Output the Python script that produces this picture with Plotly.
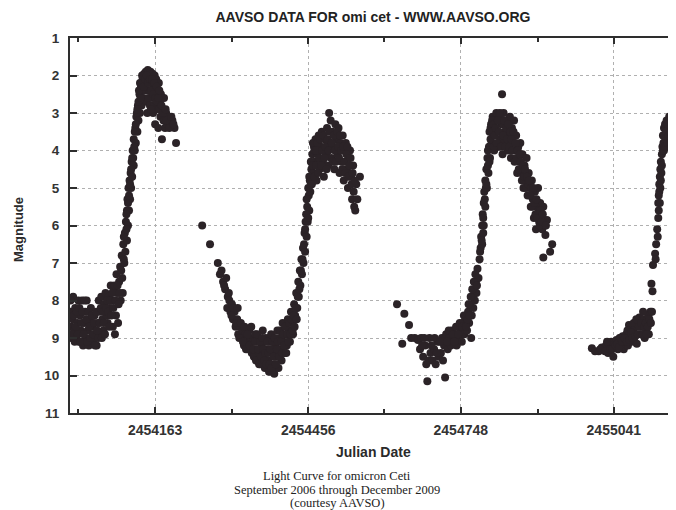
import plotly.graph_objects as go

# ---- data (Julian Date, visual magnitude) ----
cycle1 = [
    (2454002, 8.3), (2454002, 8.7), (2454003, 9.0), (2454005, 8.5), (2454006, 7.9), (2454008, 8.8),
    (2454010, 8.2), (2454012, 9.0), (2454014, 8.6), (2454016, 8.0), (2454017, 9.1), (2454019, 8.4),
    (2454021, 8.8), (2454023, 8.0), (2454025, 9.2), (2454027, 8.6), (2454029, 8.3), (2454030, 9.0),
    (2454032, 8.0), (2454034, 8.8), (2454036, 9.2), (2454038, 8.5), (2454040, 8.2), (2454041, 9.0),
    (2454043, 8.7), (2454045, 9.1), (2454047, 8.4), (2454049, 8.9), (2454051, 9.2), (2454053, 8.6),
    (2454055, 8.0), (2454056, 8.3), (2454058, 8.9), (2454060, 7.9), (2454062, 8.5), (2454064, 8.8),
    (2454066, 8.1), (2454068, 7.8), (2454070, 8.4), (2454072, 8.6), (2454074, 7.9), (2454076, 8.2),
    (2454078, 7.6), (2454080, 8.0), (2454082, 8.7), (2454084, 7.7), (2454086, 8.9), (2454088, 8.4),
    (2454090, 7.8), (2454092, 8.6), (2454094, 7.5), (2454096, 7.1), (2454097, 8.0), (2454099, 6.8),
    (2454100, 7.4), (2454101, 7.8), (2454102, 6.5), (2454104, 7.0), (2454105, 6.2), (2454106, 6.7),
    (2454107, 5.9), (2454109, 5.6), (2454109, 6.4), (2454110, 5.3), (2454111, 6.0), (2454112, 5.0),
    (2454113, 5.6), (2454114, 4.8), (2454115, 5.3), (2454116, 4.6), (2454117, 5.0), (2454118, 4.3),
    (2454119, 4.7), (2454120, 4.0), (2454122, 4.4), (2454122, 3.7), (2454124, 4.0), (2454125, 3.4),
    (2454126, 3.8), (2454127, 3.1), (2454129, 3.5), (2454130, 2.8), (2454131, 3.2), (2454133, 2.5),
    (2454134, 3.0), (2454136, 2.3), (2454137, 2.8), (2454139, 2.1), (2454140, 2.6), (2454142, 1.95),
    (2454143, 2.4), (2454145, 1.9), (2454146, 2.2), (2454147, 2.7), (2454148, 3.0), (2454149, 1.85),
    (2454151, 2.0), (2454152, 2.4), (2454153, 2.8), (2454154, 1.9), (2454156, 2.2), (2454157, 2.6),
    (2454158, 1.95), (2454159, 3.0), (2454160, 2.3), (2454161, 2.8), (2454162, 2.0), (2454163, 3.3),
    (2454164, 2.5), (2454165, 2.1), (2454167, 2.9), (2454168, 2.4), (2454169, 3.4), (2454170, 2.2),
    (2454172, 2.7), (2454173, 3.1), (2454174, 2.5), (2454176, 3.7), (2454177, 2.9), (2454179, 3.2),
    (2454180, 2.6), (2454182, 3.4), (2454184, 3.0), (2454186, 3.3), (2454188, 3.1), (2454192, 3.3),
    (2454196, 3.2), (2454200, 3.4), (2454203, 3.8),
    (2454001, 8.0), (2454004, 8.9), (2454007, 8.4), (2454009, 9.1), (2454011, 8.7), (2454013, 8.3),
    (2454015, 8.9), (2454018, 8.2), (2454020, 9.1), (2454022, 8.6), (2454024, 8.3), (2454026, 8.9),
    (2454028, 8.0), (2454031, 8.5), (2454033, 9.1), (2454035, 8.3), (2454037, 8.7), (2454039, 9.0),
    (2454042, 8.4), (2454044, 8.9), (2454046, 8.6), (2454048, 9.2), (2454050, 8.3), (2454052, 8.8),
    (2454054, 9.0), (2454057, 8.6), (2454059, 8.2), (2454061, 9.0), (2454063, 8.3), (2454065, 8.6),
    (2454067, 8.9), (2454069, 8.2), (2454071, 8.0), (2454073, 8.3), (2454075, 8.7), (2454077, 8.0),
    (2454079, 8.4), (2454081, 7.8), (2454083, 8.2), (2454085, 7.6), (2454087, 8.0), (2454089, 7.3),
    (2454091, 7.6), (2454093, 8.1), (2454095, 7.8), (2454098, 7.2), (2454103, 6.9), (2454103, 6.3),
    (2454108, 6.1), (2454108, 5.7), (2454111, 5.4), (2454113, 5.2), (2454115, 4.9), (2454117, 4.5),
    (2454119, 4.2), (2454121, 4.2), (2454123, 3.9), (2454124, 3.5), (2454126, 3.3), (2454128, 3.0),
    (2454129, 2.9), (2454131, 2.7), (2454132, 2.4), (2454134, 2.2), (2454135, 2.6), (2454138, 2.0),
    (2454141, 2.3), (2454144, 2.1), (2454147, 2.0), (2454150, 2.2), (2454150, 2.6), (2454153, 2.1),
    (2454155, 2.4), (2454155, 2.9), (2454157, 2.1), (2454159, 2.5), (2454161, 2.2), (2454163, 2.6),
    (2454166, 2.3), (2454166, 2.7), (2454169, 2.6), (2454171, 2.9), (2454171, 2.4), (2454175, 2.8),
    (2454178, 3.0), (2454181, 3.2), (2454183, 2.9), (2454185, 3.2), (2454190, 3.4), (2454194, 3.1),
    (2454198, 3.3),
]

cycle2 = [
    (2454253, 6.0), (2454268, 6.5), (2454283, 7.0), (2454287, 7.3), (2454290, 7.2), (2454293, 7.5),
    (2454297, 7.7), (2454299, 7.4), (2454302, 7.9), (2454305, 8.0), (2454301, 8.2), (2454307, 8.3),
    (2454310, 8.1), (2454312, 8.5), (2454315, 8.3), (2454317, 8.7), (2454320, 8.5), (2454322, 8.9),
    (2454325, 8.7), (2454328, 9.0), (2454330, 8.8), (2454333, 9.2), (2454336, 8.9), (2454339, 9.1),
    (2454341, 9.3), (2454343, 8.8), (2454346, 9.0), (2454348, 9.4), (2454350, 9.1), (2454352, 9.5),
    (2454355, 8.9), (2454357, 9.3), (2454359, 9.6), (2454361, 9.0), (2454363, 9.4), (2454365, 9.7),
    (2454367, 9.2), (2454369, 8.8), (2454371, 9.5), (2454373, 9.8), (2454375, 9.0), (2454377, 9.3),
    (2454379, 9.6), (2454381, 9.9), (2454383, 9.1), (2454385, 8.9), (2454387, 9.4), (2454389, 9.7),
    (2454391, 9.95), (2454393, 9.2), (2454395, 9.5), (2454397, 8.8), (2454399, 9.8), (2454401, 9.0),
    (2454403, 9.3), (2454405, 9.6), (2454407, 8.6), (2454409, 9.1), (2454411, 9.4), (2454413, 8.9),
    (2454415, 9.2), (2454417, 8.5), (2454419, 8.8), (2454421, 9.1), (2454423, 8.3), (2454425, 8.6),
    (2454427, 8.9), (2454429, 8.1), (2454431, 8.4), (2454433, 7.8), (2454435, 8.2), (2454437, 7.5),
    (2454438, 7.9), (2454440, 7.2), (2454441, 7.6), (2454443, 6.9), (2454444, 7.3), (2454446, 6.6),
    (2454447, 7.0), (2454449, 6.2), (2454450, 6.7), (2454451, 5.9), (2454453, 6.3), (2454454, 5.5),
    (2454455, 5.9), (2454457, 5.2), (2454458, 5.6), (2454459, 4.8), (2454460, 5.1), (2454462, 4.5),
    (2454463, 4.9), (2454464, 4.1), (2454466, 4.6), (2454467, 3.9), (2454469, 4.3), (2454470, 3.7),
    (2454472, 4.8), (2454474, 4.1), (2454476, 3.6), (2454478, 4.5), (2454480, 3.9), (2454482, 3.5),
    (2454484, 4.3), (2454486, 4.7), (2454488, 3.7), (2454490, 4.1), (2454492, 3.4), (2454494, 4.4),
    (2454496, 3.0), (2454498, 3.8), (2454499, 3.2), (2454500, 4.2), (2454502, 3.5), (2454504, 3.9),
    (2454506, 4.5), (2454508, 3.3), (2454510, 3.7), (2454512, 4.1), (2454514, 3.4), (2454516, 4.6),
    (2454518, 3.8), (2454520, 4.3), (2454522, 3.6), (2454524, 4.8), (2454526, 4.0), (2454528, 3.8),
    (2454530, 4.5), (2454532, 5.0), (2454534, 4.2), (2454536, 4.0), (2454538, 4.7), (2454540, 5.3),
    (2454542, 4.4), (2454544, 5.5), (2454546, 5.6), (2454548, 4.9), (2454550, 5.3), (2454555, 4.7),
    (2454295, 7.6), (2454304, 7.8), (2454309, 8.4), (2454313, 8.2), (2454318, 8.6), (2454321, 8.2),
    (2454324, 9.0), (2454327, 8.6), (2454331, 9.1), (2454334, 8.7), (2454337, 9.3), (2454340, 8.9),
    (2454344, 9.2), (2454347, 8.7), (2454351, 9.3), (2454354, 9.1), (2454356, 9.6), (2454358, 8.9),
    (2454360, 9.3), (2454362, 9.7), (2454364, 9.1), (2454366, 9.5), (2454368, 9.0), (2454370, 9.3),
    (2454372, 9.6), (2454374, 9.4), (2454376, 9.7), (2454378, 9.1), (2454380, 9.4), (2454382, 9.7),
    (2454384, 9.3), (2454386, 9.8), (2454388, 9.1), (2454390, 9.5), (2454392, 9.0), (2454394, 9.7),
    (2454396, 9.3), (2454398, 9.1), (2454400, 9.5), (2454402, 8.8), (2454404, 9.1), (2454406, 9.4),
    (2454408, 8.9), (2454410, 9.2), (2454412, 8.7), (2454414, 9.4), (2454416, 8.9), (2454418, 9.1),
    (2454420, 8.6), (2454422, 8.9), (2454424, 8.5), (2454426, 8.8), (2454428, 8.4), (2454430, 8.7),
    (2454432, 8.2), (2454434, 8.5), (2454436, 7.9), (2454439, 7.7), (2454442, 7.2), (2454445, 6.9),
    (2454448, 6.5), (2454450, 6.1), (2454452, 5.7), (2454453, 5.3), (2454456, 5.0), (2454456, 5.8),
    (2454458, 4.7), (2454461, 4.3), (2454461, 4.9), (2454465, 3.8), (2454465, 4.4), (2454468, 4.0),
    (2454468, 4.7), (2454471, 4.0), (2454471, 4.4), (2454473, 3.8), (2454475, 4.6), (2454477, 4.2),
    (2454479, 3.7), (2454481, 4.4), (2454483, 4.0), (2454485, 3.6), (2454487, 4.2), (2454489, 3.9),
    (2454491, 4.5), (2454493, 3.7), (2454495, 4.0), (2454497, 3.5), (2454501, 3.8), (2454503, 4.3),
    (2454505, 3.6), (2454507, 4.0), (2454509, 4.3), (2454511, 3.5), (2454513, 3.9), (2454515, 4.2),
    (2454517, 3.6), (2454519, 4.0), (2454521, 4.5), (2454523, 3.9), (2454525, 4.3), (2454527, 4.6),
    (2454529, 4.1), (2454531, 3.9), (2454533, 4.7), (2454535, 4.4), (2454537, 4.2), (2454539, 4.9),
    (2454541, 4.6), (2454543, 5.1), (2454545, 4.8),
]

cycle3 = [
    (2454626, 8.1), (2454636, 9.15), (2454640, 8.35), (2454649, 8.65), (2454653, 9.0), (2454660, 9.0),
    (2454666, 9.05), (2454672, 9.0), (2454670, 9.3), (2454676, 9.5), (2454680, 9.2), (2454684, 10.15),
    (2454682, 9.7), (2454688, 9.0), (2454690, 9.4), (2454686, 9.6), (2454694, 9.6), (2454697, 9.3),
    (2454700, 9.7), (2454704, 9.1), (2454706, 9.5), (2454710, 9.4), (2454712, 9.0), (2454714, 9.6),
    (2454718, 10.05), (2454716, 9.2), (2454720, 8.9), (2454723, 9.3), (2454726, 9.0), (2454729, 9.2),
    (2454731, 8.8), (2454734, 9.1), (2454737, 8.9), (2454740, 9.2), (2454742, 8.7), (2454745, 9.0),
    (2454748, 8.8), (2454750, 9.1), (2454752, 8.6), (2454755, 8.9), (2454757, 8.5), (2454760, 8.8),
    (2454762, 8.3), (2454764, 8.6), (2454766, 8.1), (2454768, 9.0), (2454769, 8.4), (2454771, 7.9),
    (2454772, 8.2), (2454774, 7.7), (2454775, 8.0), (2454777, 7.5), (2454778, 7.8), (2454780, 7.15),
    (2454782, 7.4), (2454784, 6.9), (2454786, 6.6), (2454787, 6.3), (2454789, 6.0), (2454789, 6.5),
    (2454790, 5.7), (2454792, 5.4), (2454792, 6.0), (2454793, 5.1), (2454795, 4.8), (2454795, 5.5),
    (2454797, 4.5), (2454798, 5.0), (2454799, 4.2), (2454801, 4.6), (2454802, 3.9), (2454803, 3.5),
    (2454804, 4.2), (2454806, 3.3), (2454807, 3.8), (2454809, 3.1), (2454810, 3.6), (2454812, 4.0),
    (2454814, 3.2), (2454816, 3.0), (2454818, 3.5), (2454820, 3.9), (2454822, 3.1), (2454824, 3.7),
    (2454826, 3.3), (2454827, 2.5), (2454828, 4.1), (2454830, 3.0), (2454832, 3.5), (2454834, 3.8),
    (2454836, 3.2), (2454838, 4.0), (2454840, 3.6), (2454842, 3.1), (2454844, 4.2), (2454846, 3.4),
    (2454848, 3.8), (2454850, 3.2), (2454852, 4.0), (2454854, 3.6), (2454856, 4.6), (2454858, 3.9),
    (2454860, 4.3), (2454862, 3.8), (2454864, 4.6), (2454866, 4.1), (2454868, 5.0), (2454870, 4.4),
    (2454872, 4.8), (2454874, 4.2), (2454876, 5.2), (2454878, 4.6), (2454880, 5.0), (2454882, 5.5),
    (2454884, 4.8), (2454886, 5.3), (2454888, 5.8), (2454890, 5.1), (2454892, 6.1), (2454894, 5.5),
    (2454896, 5.0), (2454898, 5.9), (2454900, 5.4), (2454902, 5.7), (2454904, 6.1), (2454906, 5.5),
    (2454908, 6.0), (2454910, 6.25), (2454913, 5.85), (2454906, 6.85), (2454919, 6.7), (2454923, 6.5),
    (2454674, 9.2), (2454678, 9.0), (2454692, 9.2), (2454698, 9.0), (2454702, 9.4), (2454708, 9.1),
    (2454722, 9.1), (2454725, 8.8), (2454733, 8.9), (2454736, 9.1), (2454739, 8.7), (2454743, 8.9),
    (2454746, 8.6), (2454751, 8.7), (2454754, 8.4), (2454758, 8.7), (2454761, 8.5), (2454763, 8.1),
    (2454765, 8.4), (2454767, 7.9), (2454770, 7.7), (2454773, 7.5), (2454776, 7.3), (2454779, 7.6),
    (2454785, 6.7), (2454788, 6.4), (2454791, 5.8), (2454791, 6.2), (2454794, 5.3), (2454796, 5.0),
    (2454797, 4.9), (2454800, 4.4), (2454800, 4.0), (2454803, 4.3), (2454805, 3.7), (2454805, 3.4),
    (2454808, 3.5), (2454808, 3.2), (2454811, 3.3), (2454811, 3.9), (2454813, 3.6), (2454815, 3.4),
    (2454817, 3.8), (2454819, 3.2), (2454821, 3.5), (2454823, 3.0), (2454825, 3.9), (2454829, 3.6),
    (2454831, 3.2), (2454833, 3.9), (2454835, 3.4), (2454837, 3.7), (2454839, 3.3), (2454841, 3.9),
    (2454843, 3.5), (2454845, 3.7), (2454847, 4.0), (2454849, 3.5), (2454851, 4.3), (2454853, 3.8),
    (2454855, 4.2), (2454857, 4.0), (2454859, 4.5), (2454861, 4.1), (2454863, 4.3), (2454865, 4.8),
    (2454867, 4.4), (2454869, 4.7), (2454871, 4.5), (2454873, 5.0), (2454875, 4.7), (2454877, 4.9),
    (2454879, 4.8), (2454881, 5.2), (2454883, 5.0), (2454885, 5.5), (2454887, 5.0), (2454889, 5.4),
    (2454891, 5.7), (2454893, 5.3), (2454895, 5.8), (2454897, 5.6), (2454899, 6.0), (2454901, 5.6),
    (2454903, 5.9), (2454905, 5.7), (2454911, 6.0),
]

cycle4 = [
    (2454999, 9.27), (2455012, 9.35), (2455018, 9.25), (2455021, 9.3), (2455026, 9.2), (2455030, 9.4),
    (2455032, 9.2), (2455036, 9.1), (2455040, 9.5), (2455042, 9.25), (2455046, 9.05), (2455049, 9.3),
    (2455052, 9.0), (2455055, 9.2), (2455058, 8.95), (2455060, 9.3), (2455063, 9.1), (2455065, 8.9),
    (2455068, 9.2), (2455070, 8.65), (2455072, 8.95), (2455075, 9.1), (2455078, 8.8), (2455080, 9.0),
    (2455083, 8.7), (2455085, 9.15), (2455088, 8.6), (2455090, 8.45), (2455092, 8.9), (2455095, 8.7),
    (2455098, 8.5), (2455100, 9.0), (2455103, 8.8), (2455105, 8.5), (2455107, 8.4), (2455108, 8.9),
    (2455110, 8.6), (2455111, 8.3), (2455113, 7.55), (2455115, 7.75), (2455116, 7.05), (2455120, 6.75),
    (2455122, 6.5), (2455121, 6.9), (2455124, 6.1), (2455125, 6.3), (2455126, 5.8), (2455126, 5.4),
    (2455127, 5.6), (2455128, 5.1), (2455128, 4.9), (2455129, 4.7), (2455130, 4.5), (2455131, 4.3),
    (2455133, 4.1), (2455134, 3.9), (2455135, 3.6), (2455136, 3.8), (2455137, 3.4), (2455139, 3.3),
    (2455140, 3.7), (2455142, 3.2), (2455143, 3.6), (2455145, 3.4), (2455147, 3.1), (2455148, 3.8),
    (2455150, 3.3), (2455152, 3.5), (2455154, 3.2), (2455156, 3.6), (2455158, 3.1), (2455160, 3.4),
    (2455005, 9.35), (2455015, 9.3), (2455024, 9.35), (2455028, 9.1), (2455034, 9.3), (2455038, 9.3),
    (2455044, 9.2), (2455048, 9.15), (2455051, 9.25), (2455054, 9.0), (2455057, 9.1), (2455062, 9.0),
    (2455066, 9.1), (2455067, 8.8), (2455071, 9.05), (2455074, 8.85), (2455077, 9.0), (2455079, 8.6),
    (2455082, 8.95), (2455084, 8.5), (2455087, 8.9), (2455089, 8.7), (2455093, 8.6), (2455096, 8.9),
    (2455097, 8.3), (2455099, 8.7), (2455102, 8.6), (2455104, 8.9), (2455106, 8.7), (2455109, 8.5),
    (2455112, 8.6), (2455114, 8.3), (2455127, 5.2), (2455129, 5.4), (2455130, 5.0), (2455131, 4.8),
    (2455132, 4.6), (2455133, 4.4), (2455135, 4.0), (2455137, 4.0), (2455138, 3.6), (2455139, 3.9),
    (2455141, 3.5), (2455141, 3.9), (2455144, 3.3), (2455144, 3.8), (2455146, 3.6), (2455149, 3.5),
    (2455151, 3.8), (2455153, 3.1), (2455155, 3.4), (2455157, 3.8), (2455159, 3.5),
]

x_tick_values = [2454163, 2454456, 2454748, 2455041]
x_tick_labels = ["2454163", "2454456", "2454748", "2455041"]
x_minor_values = [2454016, 2454310, 2454602, 2454895]
y_tick_values = [1, 2, 3, 4, 5, 6, 7, 8, 9, 10, 11]

title_text = "AAVSO DATA FOR omi cet - WWW.AAVSO.ORG"
x_title = "Julian Date"
y_title = "Magnitude"
caption_lines = ["Light Curve for omicron Ceti",
                 "September 2006 through December 2009",
                 "(courtesy AAVSO)"]

# ---- figure ----
points = cycle1 + cycle2 + cycle3 + cycle4
jd = [p[0] for p in points]
mag = [p[1] for p in points]

ink = "#2b2327"
axis_col = "#2e2e2e"
sans = "Liberation Sans, Arial, sans-serif"
serif = "Liberation Serif, Times New Roman, serif"

# the page body has an 8px margin, so the figure is 8px smaller than the window
W, H = 668, 502
L, T, B = 62, 30, 97          # plot area: x 62..668, y 30..405 inside the figure
PW, PH = W - L, H - T - B

def px(xf):                   # figure pixel x -> paper x
    return (xf - L) / PW

def py(yf):                   # figure pixel y -> paper y
    return (H - B - yf) / PH

fig = go.Figure()
fig.add_trace(go.Scatter(
    x=jd, y=mag, mode="markers",
    marker=dict(size=8, color=ink, line=dict(width=0)),
    showlegend=False, hoverinfo="x+y",
))

fig.update_layout(
    width=W, height=H,
    margin=dict(l=L, r=0, t=T, b=B),
    paper_bgcolor="white", plot_bgcolor="white",
    title=dict(text="<b>" + title_text + "</b>", x=0.5, xref="paper", xanchor="center",
               y=1 - 9 / H, yref="container", yanchor="middle",
               font=dict(family=sans, size=14, color="#222222")),
    xaxis=dict(
        range=[2454000, 2455160],
        tickmode="array", tickvals=x_tick_values, ticktext=["<b>%s</b>" % t for t in x_tick_labels],
        ticks="inside", ticklen=6, tickwidth=1.5, tickcolor=axis_col,
        showline=True, linewidth=2, linecolor=axis_col, mirror="ticks",
        showgrid=True, gridcolor="#b0b0b0", griddash="dot", gridwidth=1,
        zeroline=False,
        tickfont=dict(family=sans, size=14, color="#333333"),
        ticklabelstandoff=3,
        minor=dict(tickmode="array", tickvals=x_minor_values, ticks="inside",
                   ticklen=4, tickwidth=1.5, tickcolor=axis_col, showgrid=False),
    ),
    yaxis=dict(
        range=[11, 1],
        tickmode="array", tickvals=y_tick_values,
        ticktext=["<b>%d</b>" % v for v in y_tick_values],
        ticks="inside", ticklen=7, tickwidth=1.5, tickcolor=axis_col,
        showline=True, linewidth=2, linecolor=axis_col, mirror=False,
        showgrid=True, gridcolor="#b0b0b0", griddash="dot", gridwidth=1,
        zeroline=False,
        tickfont=dict(family=sans, size=13.5, color="#333333"),
        ticklabelstandoff=6,
    ),
)

annotations = [
    dict(text="<b>" + x_title + "</b>", x=px(365), y=py(444),
         xref="paper", yref="paper", showarrow=False, xanchor="center", yanchor="middle",
         font=dict(family=sans, size=14, color="#2a2a2a")),
    dict(text="<b>" + y_title + "</b>", x=px(10), y=py(222),
         xref="paper", yref="paper", showarrow=False, textangle=-90,
         xanchor="center", yanchor="middle",
         font=dict(family=sans, size=13, color="#2a2a2a")),
]
for i, line in enumerate(caption_lines):
    annotations.append(dict(
        text=line, x=px(329), y=py(468 + 13.5 * i),
        xref="paper", yref="paper", showarrow=False, xanchor="center", yanchor="middle",
        font=dict(family=serif, size=12.5, color="#222222")))
fig.update_layout(annotations=annotations)

fig.write_html("out.html")
